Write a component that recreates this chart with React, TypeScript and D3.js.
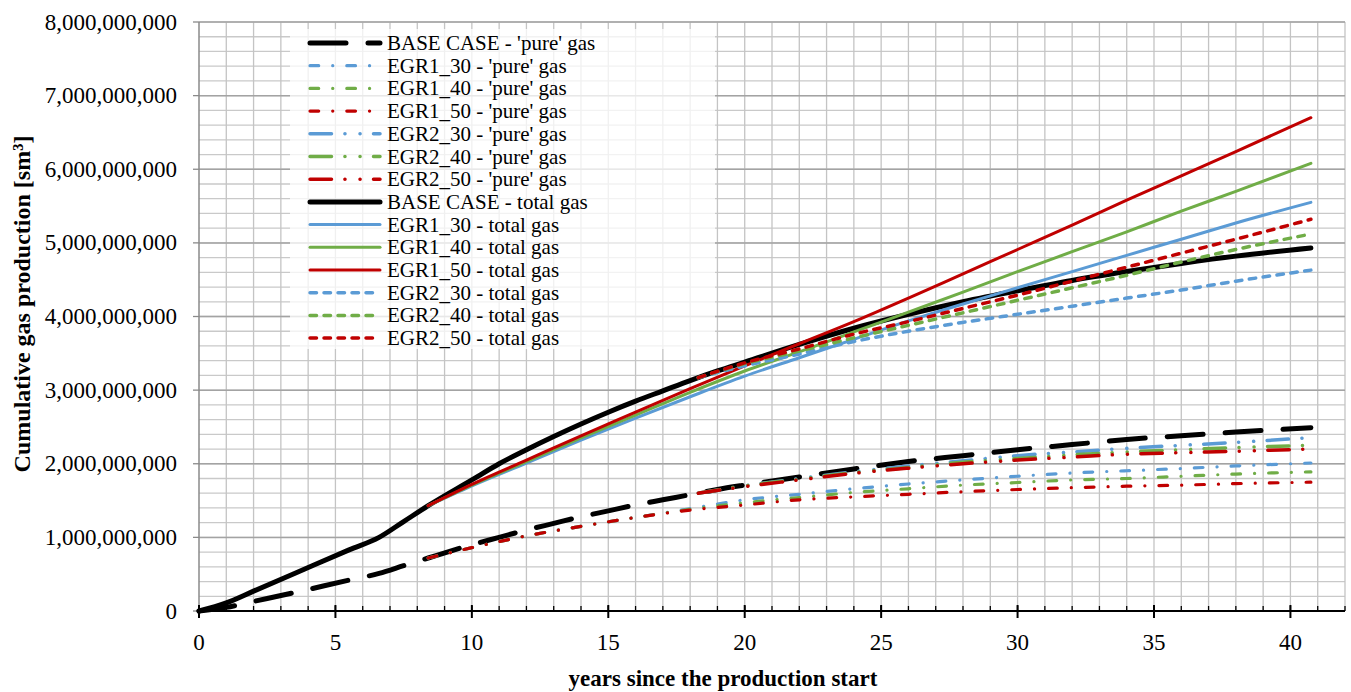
import React from 'react';
import * as d3 from 'd3';

// ---------- data (values in billions of sm3) ----------
const xTickValues = [0, 5, 10, 15, 20, 25, 30, 35, 40];
const yTickValues = [0, 1e9, 2e9, 3e9, 4e9, 5e9, 6e9, 7e9, 8e9];

const baseYears = [0, 1, 2, 3.5, 5.5, 6.6, 7.5, 8.4, 10, 11, 12, 13, 14, 15, 16, 17, 18, 19, 20, 22, 24, 26, 28, 30, 32, 34, 36, 38, 40.75];
const basePure = [0, 0.05, 0.13, 0.25, 0.42, 0.51, 0.615, 0.72, 0.9, 1.0, 1.1, 1.19, 1.28, 1.36, 1.44, 1.51, 1.58, 1.65, 1.71, 1.82, 1.93, 2.03, 2.11, 2.19, 2.26, 2.33, 2.38, 2.43, 2.49];
const baseTotal = [0, 0.11, 0.27, 0.51, 0.83, 1.0, 1.215, 1.43, 1.78, 2.0, 2.19, 2.37, 2.54, 2.7, 2.85, 2.99, 3.13, 3.26, 3.38, 3.62, 3.84, 4.03, 4.2, 4.35, 4.49, 4.61, 4.72, 4.82, 4.93];

const egr1Years = [8.4, 10, 12, 14, 16, 18, 20, 22, 24, 26, 28, 30, 32, 34, 36, 38, 40.75];
const egr1_30Pure = [0.72, 0.86, 1.02, 1.15, 1.27, 1.39, 1.51, 1.585, 1.66, 1.725, 1.78, 1.83, 1.875, 1.905, 1.935, 1.97, 2.01];
const egr1_40Pure = [0.72, 0.86, 1.02, 1.15, 1.27, 1.38, 1.47, 1.54, 1.61, 1.66, 1.71, 1.745, 1.78, 1.8, 1.83, 1.86, 1.89];
const egr1_50Pure = [0.72, 0.86, 1.02, 1.15, 1.27, 1.37, 1.44, 1.51, 1.55, 1.585, 1.62, 1.65, 1.675, 1.695, 1.71, 1.73, 1.75];
const egr1_30Total = [1.43, 1.7, 2.01, 2.32, 2.62, 2.91, 3.19, 3.44, 3.69, 3.94, 4.17, 4.39, 4.61, 4.83, 5.05, 5.27, 5.55];
const egr1_40Total = [1.43, 1.71, 2.03, 2.35, 2.66, 2.97, 3.26, 3.52, 3.79, 4.06, 4.33, 4.61, 4.88, 5.15, 5.43, 5.7, 6.08];
const egr1_50Total = [1.43, 1.72, 2.05, 2.38, 2.7, 3.02, 3.33, 3.63, 3.93, 4.25, 4.58, 4.91, 5.24, 5.58, 5.91, 6.24, 6.7];

const egr2Years = [18.3, 20, 22, 24, 26, 28, 30, 32, 34, 36, 38, 40.75];
const egr2_30Pure = [1.6, 1.7, 1.8, 1.89, 1.97, 2.04, 2.11, 2.16, 2.21, 2.25, 2.29, 2.355];
const egr2_40Pure = [1.6, 1.7, 1.79, 1.88, 1.95, 2.02, 2.07, 2.12, 2.16, 2.19, 2.22, 2.25];
const egr2_50Pure = [1.6, 1.69, 1.78, 1.87, 1.94, 2.0, 2.05, 2.09, 2.13, 2.15, 2.17, 2.2];
const egr2_30Total = [3.17, 3.33, 3.49, 3.66, 3.8, 3.92, 4.03, 4.14, 4.25, 4.36, 4.48, 4.63];
const egr2_40Total = [3.17, 3.36, 3.53, 3.71, 3.88, 4.05, 4.22, 4.39, 4.56, 4.74, 4.91, 5.12];
const egr2_50Total = [3.17, 3.37, 3.56, 3.76, 3.93, 4.11, 4.29, 4.48, 4.67, 4.86, 5.05, 5.32];

const seriesNames = [
  "BASE CASE - 'pure' gas",
  "EGR1_30 - 'pure' gas",
  "EGR1_40 - 'pure' gas",
  "EGR1_50 - 'pure' gas",
  "EGR2_30 - 'pure' gas",
  "EGR2_40 - 'pure' gas",
  "EGR2_50 - 'pure' gas",
  'BASE CASE - total gas',
  'EGR1_30 - total gas',
  'EGR1_40 - total gas',
  'EGR1_50 - total gas',
  'EGR2_30 - total gas',
  'EGR2_40 - total gas',
  'EGR2_50 - total gas',
];

// ---------- styles ----------
const BLUE = '#5B9BD5';
const GREEN = '#70AD47';
const RED = '#C00000';
const BLACK = '#000000';
const FONT = "'Liberation Serif', 'Times New Roman', serif";

const DASH_BASE_PURE = '36 22';
const DASH_EGR1_PURE = '8.7 14 0.1 14';
const DASH_EGR2_PURE = '21.5 13.4 0.1 15 0.1 13.4';
const DASH_EGR2_TOTAL = '6.5 7.5';

const seriesData = [
  { xs: baseYears, ys: basePure, color: BLACK, width: 5, dash: DASH_BASE_PURE },
  { xs: egr1Years, ys: egr1_30Pure, color: BLUE, width: 3.2, dash: DASH_EGR1_PURE },
  { xs: egr1Years, ys: egr1_40Pure, color: GREEN, width: 3.2, dash: DASH_EGR1_PURE },
  { xs: egr1Years, ys: egr1_50Pure, color: RED, width: 3.2, dash: DASH_EGR1_PURE },
  { xs: egr2Years, ys: egr2_30Pure, color: BLUE, width: 3.5, dash: DASH_EGR2_PURE },
  { xs: egr2Years, ys: egr2_40Pure, color: GREEN, width: 3.5, dash: DASH_EGR2_PURE },
  { xs: egr2Years, ys: egr2_50Pure, color: RED, width: 3.5, dash: DASH_EGR2_PURE },
  { xs: baseYears, ys: baseTotal, color: BLACK, width: 5, dash: null },
  { xs: egr1Years, ys: egr1_30Total, color: BLUE, width: 3, dash: null },
  { xs: egr1Years, ys: egr1_40Total, color: GREEN, width: 3, dash: null },
  { xs: egr1Years, ys: egr1_50Total, color: RED, width: 3, dash: null },
  { xs: egr2Years, ys: egr2_30Total, color: BLUE, width: 3.5, dash: DASH_EGR2_TOTAL },
  { xs: egr2Years, ys: egr2_40Total, color: GREEN, width: 3.5, dash: DASH_EGR2_TOTAL },
  { xs: egr2Years, ys: egr2_50Total, color: RED, width: 3.5, dash: DASH_EGR2_TOTAL },
];

const W = 1351;
const H = 692;
const PL = 199;
const PR = 1345;
const PT = 22;
const PB = 611;

export default function App() {
  const x = d3.scaleLinear().domain([0, 42]).range([PL, PR]);
  const y = d3.scaleLinear().domain([0, 8e9]).range([PB, PT]);
  const fmt = d3.format(',');

  const minorX = d3.range(1, 43, 1);
  const minorY = d3.range(0, 8e9 + 1, 2e8);

  const line = d3
    .line<[number, number]>()
    .x((d) => x(d[0]))
    .y((d) => y(d[1] * 1e9))
    .curve(d3.curveMonotoneX);

  const legX0 = 310;
  const legX1 = 380;
  const legTextX = 387;
  const legY0 = 43;
  const legStep = 22.7;

  return (
    <svg
      width={W}
      height={H}
      style={{ position: 'absolute', left: 0, top: 0, background: '#fff' }}
      fontFamily={FONT}
    >
      <rect x={0} y={0} width={W} height={H} fill="#fff" />
      {/* gridlines */}
      <g>
        {minorY.map((v, i) => (
          <line key={'my' + i} x1={PL} x2={PR} y1={y(v)} y2={y(v)} stroke="#c9c9c9" strokeWidth={1.3} />
        ))}
        {minorX.map((v, i) => (
          <line key={'mx' + i} x1={x(v)} x2={x(v)} y1={PT} y2={PB} stroke="#c4c4c4" strokeWidth={1.3} />
        ))}
        {yTickValues.map((v, i) => (
          <line key={'gy' + i} x1={PL} x2={PR} y1={y(v)} y2={y(v)} stroke="#a3a3a3" strokeWidth={1.5} />
        ))}
      </g>
      {/* y axis */}
      <line x1={PL} x2={PL} y1={PT} y2={PB} stroke="#8a8a8a" strokeWidth={1.5} />
      {yTickValues.map((v, i) => (
        <g key={'yt' + i}>
          <line x1={PL - 6} x2={PL} y1={y(v)} y2={y(v)} stroke="#8a8a8a" strokeWidth={1.3} />
          <text x={177} y={y(v)} textAnchor="end" dominantBaseline="central" fontSize={23} fill="#000">
            {fmt(v)}
          </text>
        </g>
      ))}
      {/* series */}
      <g fill="none" strokeLinecap="round" strokeLinejoin="round">
        {seriesData.map((s, i) => (
          <path
            key={'s' + i}
            d={line(s.xs.map((xv, j) => [xv, s.ys[j]] as [number, number])) || ''}
            stroke={s.color}
            strokeWidth={s.width}
            strokeDasharray={s.dash || undefined}
          />
        ))}
      </g>
      {/* x axis */}
      <line x1={PL} x2={PR} y1={PB} y2={PB} stroke="#000" strokeWidth={2} />
      {minorX.map((v, i) => (
        <line key={'xm' + i} x1={x(v)} x2={x(v)} y1={PB - 5} y2={PB} stroke="#000" strokeWidth={1.3} />
      ))}
      {xTickValues.map((v, i) => (
        <g key={'xt' + i}>
          <line x1={x(v)} x2={x(v)} y1={PB - 6} y2={PB + 7} stroke="#000" strokeWidth={2} />
          <text x={x(v)} y={642} textAnchor="middle" dominantBaseline="central" fontSize={23} fill="#000">
            {v}
          </text>
        </g>
      ))}
      {/* axis titles */}
      <text
        transform={`translate(22,304) rotate(-90)`}
        textAnchor="middle"
        dominantBaseline="central"
        fontSize={24}
        fontWeight="bold"
        fill="#000"
      >
        Cumulative gas production [sm³]
      </text>
      <text x={723} y={686} textAnchor="middle" fontSize={23} fontWeight="bold" fill="#000">
        years since the production start
      </text>
      {/* legend */}
      <rect x={290} y={29} width={425} height={320} fill="#fff" opacity={0.75} />
      <g>
        {seriesNames.map((name, i) => {
          const s = seriesData[i];
          const ly = legY0 + i * legStep;
          return (
            <g key={'lg' + i}>
              <line
                x1={legX0}
                x2={legX1}
                y1={ly}
                y2={ly}
                stroke={s.color}
                strokeWidth={s.width}
                strokeDasharray={s.dash || undefined}
                strokeLinecap="round"
              />
              <text x={legTextX} y={ly} dominantBaseline="central" fontSize={21} fill="#000">
                {name}
              </text>
            </g>
          );
        })}
      </g>
    </svg>
  );
}
